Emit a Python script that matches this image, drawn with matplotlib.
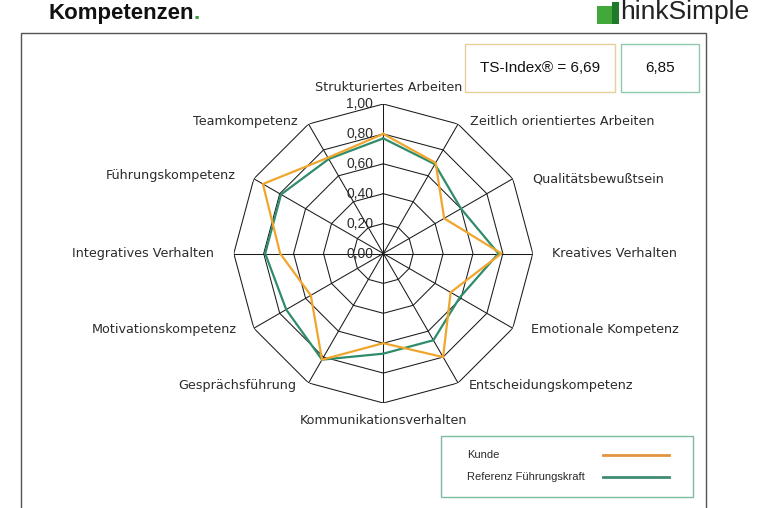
import numpy as np
import matplotlib
matplotlib.use("Agg")
import matplotlib.pyplot as plt
from matplotlib.patches import Rectangle

# ---------------- data ----------------
categories = [
    "Strukturiertes Arbeiten", "Zeitlich orientiertes Arbeiten", "Qualitätsbewußtsein",
    "Kreatives Verhalten", "Emotionale Kompetenz", "Entscheidungskompetenz",
    "Kommunikationsverhalten", "Gesprächsführung", "Motivationskompetenz",
    "Integratives Verhalten", "Führungskompetenz", "Teamkompetenz",
]
kunde = [0.80, 0.70, 0.47, 0.79, 0.52, 0.80, 0.60, 0.82, 0.56, 0.69, 0.93, 0.74]
referenz = [0.77, 0.69, 0.60, 0.77, 0.59, 0.67, 0.67, 0.82, 0.75, 0.79, 0.79, 0.73]
series_names = ["Kunde", "Referenz Führungskraft"]
ring_values = [0.2, 0.4, 0.6, 0.8, 1.0]
tick_values = [0.0, 0.2, 0.4, 0.6, 0.8, 1.0]
tick_labels = ["0,00", "0,20", "0,40", "0,60", "0,80", "1,00"]
ts_index_kunde = "6,69"
ts_index_referenz = "6,85"
title = "Kompetenzen"

ORANGE = "#F0A52C"
GREEN = "#2F8C6B"
TXT = "#2b2b2b"

plt.rcParams["font.family"] = ["Liberation Sans", "DejaVu Sans"]

W, H = 762, 508
fig = plt.figure(figsize=(W / 100, H / 100), dpi=100)
fig.patch.set_facecolor("white")

# decoration layer in pixel coordinates
deco = fig.add_axes([0, 0, 1, 1])
deco.set_xlim(0, W)
deco.set_ylim(H, 0)
deco.axis("off")

# outer frame
deco.add_patch(Rectangle((21, 33), 685, 490, fill=False, edgecolor="#555555", lw=1.0))

# title
t1 = deco.text(48, 19, title, fontsize=16, fontweight="bold", color="#111111",
               va="baseline", ha="left")
deco.annotate(".", xy=(1, 0), xycoords=t1, ha="left", va="bottom", fontsize=16,
              fontweight="bold", color="#2E9B3A")

# logo
deco.add_patch(Rectangle((597, 6), 15, 18, color="#43A83A", lw=0))
deco.add_patch(Rectangle((612, 2), 7, 22, color="#1F7B2B", lw=0))
deco.text(620, 19, "hinkSimple", fontsize=19, color="#222222", va="baseline", ha="left")

# TS index boxes
deco.add_patch(Rectangle((465, 44), 150, 48, fill=False, edgecolor="#E6CF98", lw=1.0))
deco.add_patch(Rectangle((621, 44), 78, 48, fill=False, edgecolor="#8FC8AC", lw=1.0))
deco.text(540, 68, "TS-Index® = " + ts_index_kunde, fontsize=11, color="#111111",
          ha="center", va="center")
deco.text(660, 68, ts_index_referenz, fontsize=11, color="#111111", ha="center", va="center")

# ---------------- radar ----------------
cx, cy, R = 383.3, 253.5, 149.5
rect = [(cx - R) / W, 1 - (cy + R) / H, 2 * R / W, 2 * R / H]
ax = fig.add_axes(rect, projection="polar")
ax.set_theta_zero_location("N")
ax.set_theta_direction(-1)
ax.set_ylim(0, 1)
ax.grid(False)
ax.spines["polar"].set_visible(False)
ax.set_xticks([])
ax.set_yticks([])
ax.patch.set_alpha(0)

n = len(categories)
theta = np.linspace(0, 2 * np.pi, n, endpoint=False)
theta_c = np.append(theta, theta[0])

for r in ring_values:
    ax.plot(theta_c, [r] * (n + 1), color="#1a1a1a", lw=0.75, zorder=1)
for th in theta:
    ax.plot([th, th], [0, 1], color="#1a1a1a", lw=0.75, zorder=1)

ax.plot(theta_c, np.append(referenz, referenz[0]), color=GREEN, lw=1.6, zorder=3)
ax.plot(theta_c, np.append(kunde, kunde[0]), color=ORANGE, lw=1.6, zorder=4)

for v, lab in zip(tick_values, tick_labels):
    ax.annotate(lab, xy=(0, v), xytext=(-10, 0), textcoords="offset pixels",
                ha="right", va="center", fontsize=10, color=TXT, zorder=5)

label_offsets = [
    ((5, 17), "center"), ((12, 3), "left"), ((19, 0), "left"), ((19, 0), "left"),
    ((18, -1), "left"), ((11, -3), "left"), ((0, -17), "center"), ((-12, -3), "right"),
    ((-17, -1), "right"), ((-20, 0), "right"), ((-18, 3), "right"), ((-11, 3), "right"),
]
for th, lab, (off, ha) in zip(theta, categories, label_offsets):
    ax.annotate(lab, xy=(th, 1.0), xytext=off, textcoords="offset pixels",
                ha=ha, va="center", fontsize=9.2, color=TXT, family="DejaVu Sans",
                annotation_clip=False)

# ---------------- legend ----------------
deco.add_patch(Rectangle((441, 436), 252, 61, fill=False, edgecolor="#7DBB9E", lw=1.0))
for y, name, col in zip([455, 477], series_names, ["#E2953F", "#3E8C70"]):
    deco.text(467, y, name, fontsize=8.0, color=TXT, ha="left", va="center")
    deco.plot([603, 669], [y, y], color=col, lw=2)

fig.savefig("out.png", dpi=100)
